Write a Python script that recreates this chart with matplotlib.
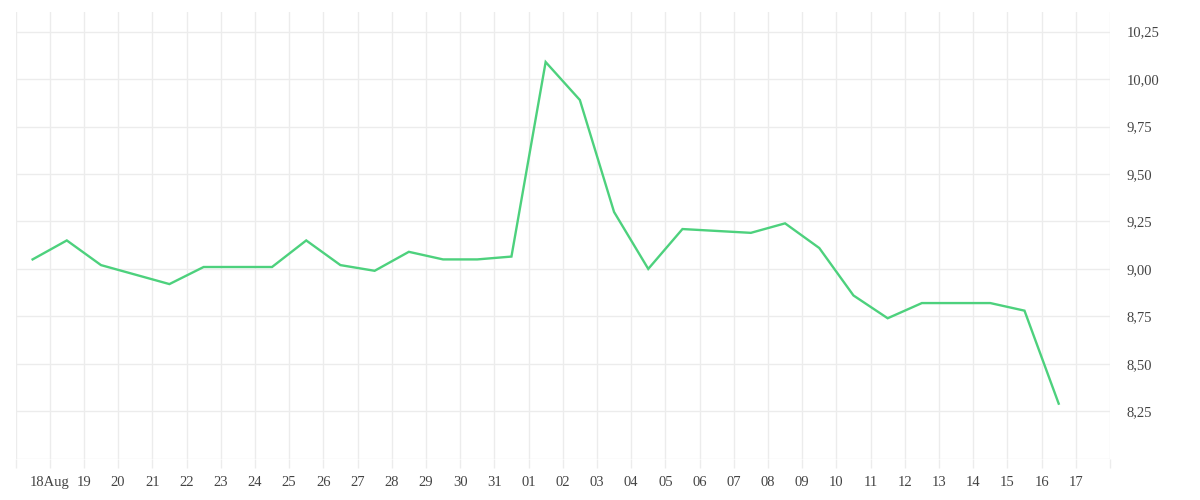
"""Daily price line, Aug 17 - Sep 16 (recreated)."""

import matplotlib
matplotlib.use("Agg")
import matplotlib.pyplot as plt
import pandas as pd

# --- data -------------------------------------------------------------
dates = pd.date_range("2023-08-17 12:00", periods=31, freq="D")
values = [
    9.05, 9.15, 9.02, 8.97, 8.92, 9.01, 9.01, 9.01, 9.15, 9.02,
    8.99, 9.09, 9.05, 9.05, 9.065, 10.09, 9.89, 9.30, 9.00, 9.21,
    9.20, 9.19, 9.24, 9.11, 8.86, 8.74, 8.82, 8.82, 8.82, 8.78,
    8.29,
]
y_ticks = [8.00, 8.25, 8.50, 8.75, 9.00, 9.25, 9.50, 9.75, 10.00, 10.25]
y_labels = ["", "8,25", "8,50", "8,75", "9,00", "9,25", "9,50", "9,75", "10,00", "10,25"]

x_start = pd.Timestamp("2023-08-17")
x_end = pd.Timestamp("2023-09-18")
day_ticks = pd.date_range(x_start, x_end, freq="D")
day_labels = [""] + [d.strftime("%d") for d in day_ticks[1:-1]] + [""]
day_labels[1] = day_labels[1] + "Aug"

line_color = "#4dd17d"
grid_color = "#ececec"
text_color = "#444444"

plt.rcParams["font.family"] = ["Liberation Serif", "DejaVu Serif"]

fig = plt.figure(figsize=(12, 5), dpi=100)
ax = fig.add_axes([15.5 / 1200, 41.3 / 500, (1110 - 15.5) / 1200, (458.7 - 12.3) / 500])

ax.plot(dates, values, color=line_color, linewidth=1.7, solid_joinstyle="miter", zorder=3)

ax.set_xlim(x_start, x_end)
ax.set_ylim(8.0, 10.352)

ax.set_xticks(day_ticks)
ax.set_xticklabels(day_labels)
ax.set_yticks(y_ticks)
ax.set_yticklabels(y_labels)

ax.yaxis.tick_right()
ax.tick_params(axis="x", length=6.7, width=1, color=grid_color, pad=6,
               labelsize=10.5, labelcolor=text_color)
ax.tick_params(axis="y", length=0, pad=12, labelsize=10.5, labelcolor=text_color)

ax.grid(True, color=grid_color, linewidth=1, zorder=0)
ax.set_axisbelow(True)
for spine in ax.spines.values():
    spine.set_visible(False)

fig.savefig("out.png", dpi=100)
plt.close(fig)
